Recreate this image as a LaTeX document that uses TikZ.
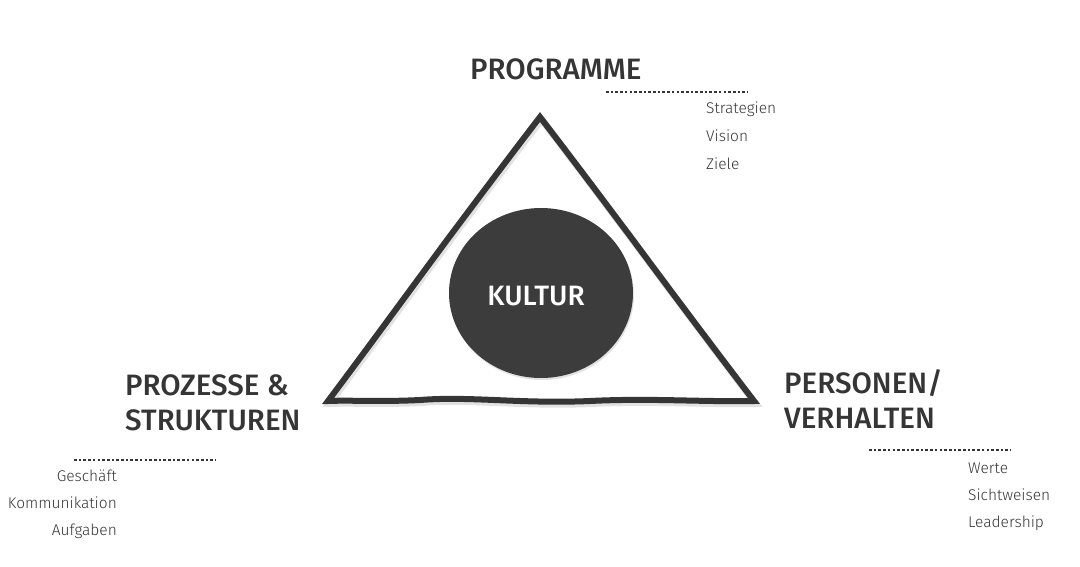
\documentclass[tikz,border=0pt]{standalone}
\usepackage{fontspec}
\setmainfont{Fira Sans}
\newfontfamily\headfont{Fira Sans Medium}
\newfontfamily\itemfont{Fira Sans Light}
\definecolor{ink}{HTML}{353535}
\definecolor{blob}{HTML}{3C3C3C}
\definecolor{shadowgrey}{HTML}{E2E2E2}
\tikzset{
  head/.style={font=\headfont\fontsize{29.5}{35}\selectfont, text=ink, inner sep=0pt, align=left},
  item/.style={font=\itemfont\fontsize{15.5}{17}\selectfont, text=ink, inner sep=0pt},
  dots/.style={ink, line width=2.6pt, dash pattern=on 2.6pt off 2.1pt},
  tri/.style={line width=6pt, line join=miter, miter limit=20},
}
\begin{document}
\begin{tikzpicture}[x=1pt,y=-1pt]
\useasboundingbox (0,0) rectangle (1080,566);
% triangle (shadow + stroke)
\def\tripath{(540,117) .. controls (570,156) and (600,196) .. (630,236)
  .. controls (670,290) and (715,350) .. (754,401)
  .. controls (700,402) and (650,398) .. (590,401)
  .. controls (520,404) and (470,396) .. (420,400)
  .. controls (380,402) and (350,400) .. (328,401)
  .. controls (370,345) and (410,290) .. (450,236)
  .. controls (480,196) and (510,156) .. cycle}
\draw[draw=shadowgrey, tri, line width=7pt, shift={(1.5pt,-2.5pt)}] \tripath;
\draw[draw=ink, tri] \tripath;
% circle
\fill[fill=shadowgrey] (542,295) ellipse [x radius=92, y radius=85];
\fill[fill=blob] (541,293) ellipse [x radius=92, y radius=85];
\node (kultur) at (536,296) [font=\headfont\fontsize{28}{30}\selectfont, text=white, inner sep=0pt] {KULTUR};
% headings
\node (prog) at (470,69) [head, anchor=west] {PROGRAMME};
\node (proz) at (125,403) [head, anchor=west] {PROZESSE \&\\STRUKTUREN};
\node (pers) at (784,399) [head, anchor=west] {PERSONEN/\\VERHALTEN};
% dotted lines
\coordinate (d1a) at (606,92); \coordinate (d1b) at (748,92);
\coordinate (d2a) at (74,460); \coordinate (d2b) at (216,460);
\coordinate (d3a) at (869,450); \coordinate (d3b) at (1011,450);
\draw[dots] (d1a) -- (d1b);
\draw[dots] (d2a) -- (d2b);
\draw[dots] (d3a) -- (d3b);
% items
\node (s1) at (706,109) [item, anchor=west] {Strategien};
\node (s2) at (706,136) [item, anchor=west] {Vision};
\node (s3) at (706,164) [item, anchor=west] {Ziele};
\node (g1) at (117,476) [item, anchor=east] {Geschäft};
\node (g2) at (117,503) [item, anchor=east] {Kommunikation};
\node (g3) at (117,531) [item, anchor=east] {Aufgaben};
\node (w1) at (968,468) [item, anchor=west] {Werte};
\node (w2) at (968,495) [item, anchor=west] {Sichtweisen};
\node (w3) at (968,523) [item, anchor=west] {Leadership};
\end{tikzpicture}
\end{document}
